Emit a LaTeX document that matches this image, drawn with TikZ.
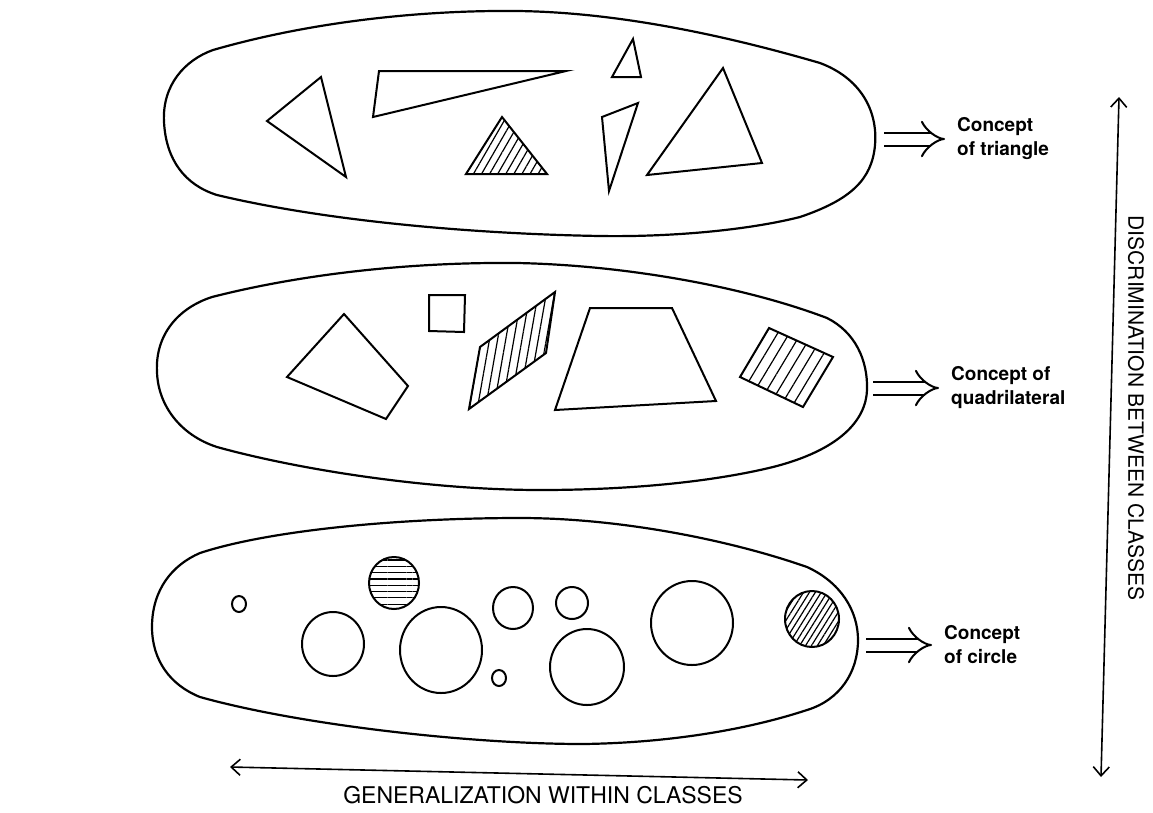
\documentclass[tikz,border=0pt]{standalone}
\usepackage{fontspec}
\setmainfont{TeX Gyre Heros}
\usetikzlibrary{arrows.meta,patterns.meta}

\tikzset{
  blob/.style={line width=2.2pt, line join=round},
  figline/.style={line width=2pt, line join=miter},
  hatch/.style n args={2}{figline, pattern={Lines[angle=#1,distance=#2,line width=1.2pt]}},
  conlabel/.style={align=left, anchor=west, inner sep=0pt, font=\bfseries\fontsize{19}{24}\selectfont},
  implarrow/.style={double, line width=2pt, double distance=11pt, shorten >=12pt, -{Implies[length=12pt,width=30pt]}},
  axisarrow/.style={line width=1.6pt, {Straight Barb[length=9pt,width=16pt,line width=1.6pt]}-{Straight Barb[length=9pt,width=16pt,line width=1.6pt]}}
}

\begin{document}
\begin{tikzpicture}[x=1pt,y=-1pt]
\useasboundingbox (0,0) rectangle (1153,812);

%Blob of triangles
\draw [blob] (164,122) .. controls (162,85) and (185,60) .. (213,50)
  .. controls (310,22) and (420,10) .. (517,11)
  .. controls (600,12) and (700,28) .. (820,63)
  .. controls (860,78) and (878,110) .. (875,145)
  .. controls (872,180) and (850,200) .. (800,217)
  .. controls (740,232) and (660,237) .. (600,236)
  .. controls (480,234) and (330,222) .. (217,195)
  .. controls (185,185) and (166,160) .. (164,122) -- cycle;

%Triangles
\draw [figline] (321,77) -- (267,121) -- (346,177) -- cycle;
\draw [figline] (379,71) -- (566,71) -- (373,117) -- cycle;
\draw [figline] (633,39) -- (612,77) -- (641,77) -- cycle;
\draw [hatch={60}{7pt}] (502,117) -- (466,174) -- (547,174) -- cycle;
\draw [figline] (602,117) -- (638,103) -- (609,191) -- cycle;
\draw [figline] (723,68) -- (647,175) -- (762,163) -- cycle;

%Blob of quadrilaterals
\draw [blob] (157,372) .. controls (155,335) and (178,308) .. (212,297)
  .. controls (310,272) and (420,262) .. (517,263)
  .. controls (620,265) and (740,285) .. (827,318)
  .. controls (855,332) and (868,360) .. (867,390)
  .. controls (866,420) and (840,450) .. (773,467)
  .. controls (720,480) and (640,490) .. (540,490)
  .. controls (430,490) and (300,470) .. (217,447)
  .. controls (180,435) and (158,405) .. (157,372) -- cycle;

%Quadrilaterals
\draw [figline] (344,314) -- (408,386) -- (386,419) -- (287,377) -- cycle;
\draw [figline] (429,295) -- (465,295) -- (464,332) -- (429,331) -- cycle;
\draw [hatch={80}{8pt}] (480,347) -- (555,292) -- (546,353) -- (469,409) -- cycle;
\draw [figline] (590,308) -- (672,308) -- (716,401) -- (555,410) -- cycle;
\draw [hatch={59}{10pt}] (769,328) -- (833,357) -- (803,407) -- (740,377) -- cycle;

%Blob of circles
\draw [blob] (152,627) .. controls (152,590) and (172,565) .. (200,553)
  .. controls (270,530) and (400,518) .. (520,518)
  .. controls (620,518) and (730,540) .. (807,567)
  .. controls (840,582) and (858,610) .. (858,640)
  .. controls (858,672) and (840,700) .. (807,710)
  .. controls (740,732) and (660,743) .. (583,744)
  .. controls (470,744) and (300,725) .. (200,697)
  .. controls (170,685) and (152,660) .. (152,627) -- cycle;

%Circles
\draw [figline] (239,604) ellipse [x radius=7pt, y radius=8pt];
\draw [hatch={0}{6.3pt}] (394,583) ellipse [x radius=25pt, y radius=26pt];
\draw [figline] (333,644) ellipse [x radius=31pt, y radius=32pt];
\draw [figline] (441,650) ellipse [x radius=41pt, y radius=43pt];
\draw [figline] (513,608) ellipse [x radius=20pt, y radius=21pt];
\draw [figline] (572,603) ellipse [x radius=16pt, y radius=16pt];
\draw [figline] (499,678) ellipse [x radius=7pt, y radius=8pt];
\draw [figline] (587,667) ellipse [x radius=37pt, y radius=38pt];
\draw [figline] (692,623) ellipse [x radius=41pt, y radius=42pt];
\draw [hatch={58}{5pt}] (812,619) ellipse [x radius=27pt, y radius=28pt];

%Concepts
\node [conlabel] (tricon) at (957,139) {Concept\\of triangle};
\node [conlabel] (quadcon) at (951,388) {Concept of\\quadrilateral};
\node [conlabel] (circcon) at (944,645) {Concept\\of circle};
\coordinate (triA) at (884,139);
\coordinate (quadA) at (873,388);
\coordinate (circA) at (866,645);
\draw [implarrow] (triA) -- (tricon.west);
\draw [implarrow] (quadA) -- (quadcon.west);
\draw [implarrow] (circA) -- (circcon.west);

%Axes
\coordinate (dtop) at (1119,97);
\coordinate (dbot) at (1101,777);
\draw [axisarrow] (dtop) -- (dbot);
\node [rotate=-90, font=\fontsize{21}{24}\selectfont] (discr) at (1136,408) {DISCRIMINATION BETWEEN CLASSES};

\coordinate (gleft) at (230,767);
\coordinate (gright) at (808,780);
\draw [axisarrow] (gleft) -- (gright);
\node [font=\fontsize{23}{26}\selectfont] (gener) at (543,795) {GENERALIZATION WITHIN CLASSES};

\end{tikzpicture}
\end{document}
